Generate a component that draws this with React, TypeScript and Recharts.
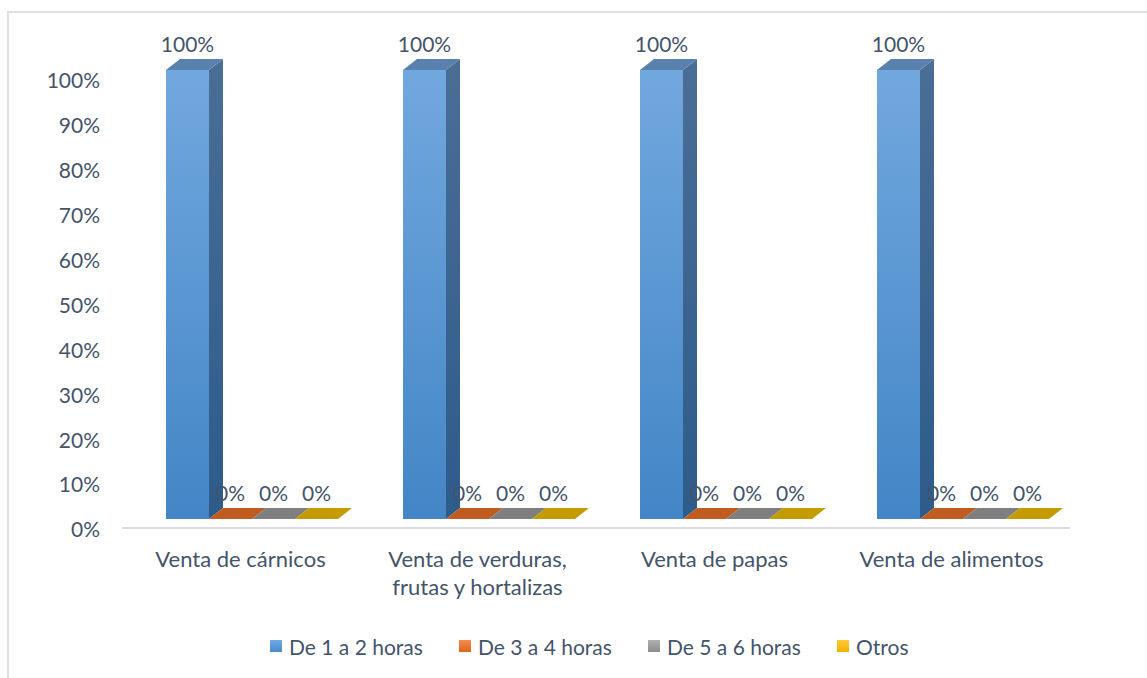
import React from 'react'
import { BarChart, Bar, XAxis, YAxis, LabelList } from 'recharts'

// categories and series
const categories = [
  'Venta de cárnicos',
  'Venta de verduras, frutas y hortalizas',
  'Venta de papas',
  'Venta de alimentos',
]
const categoryLines: Record<string, string[]> = {
  'Venta de verduras, frutas y hortalizas': ['Venta de verduras,', 'frutas y hortalizas'],
}
const seriesNames = ['De 1 a 2 horas', 'De 3 a 4 horas', 'De 5 a 6 horas', 'Otros']
const unoADos = [1, 1, 1, 1]
const tresACuatro = [0, 0, 0, 0]
const cincoASeis = [0, 0, 0, 0]
const otros = [0, 0, 0, 0]
const yTicks = [0, 0.1, 0.2, 0.3, 0.4, 0.5, 0.6, 0.7, 0.8, 0.9, 1]

const data = categories.map((name, i) => ({
  name,
  s0: unoADos[i],
  s1: tresACuatro[i],
  s2: cincoASeis[i],
  s3: otros[i],
}))

const TEXT = '#44546a'
const FONT = 'Lato, "Noto Sans", sans-serif'

// 3D look: front face is pushed a bit from the axis, depth goes up-right
const SHIFT_X = 11
const SHIFT_Y = -9
const DEPTH_X = 14
const DEPTH_Y = -11

type Faces = { front: string; side: string; top: string }

const FACES: Faces[] = [
  { front: 'url(#blueFront)', side: 'url(#blueSide)', top: '#5a80ad' },
  { front: '#c55a11', side: '#8e3f0c', top: '#c05c1f' },
  { front: '#8a8a8a', side: '#666666', top: '#7f7f7f' },
  { front: '#d4a600', side: '#9c7a00', top: '#c49b00' },
]
const LEGEND_COLORS = [
  ['#6eabe6', '#4a8acb'],
  ['#f28c4c', '#e0661a'],
  ['#b0b0b0', '#8c8c8c'],
  ['#ffc935', '#f0b300'],
]

function makeShape(f: Faces) {
  return (props: any) => {
    const { x, y, width } = props
    const h = Math.max(0, props.height || 0)
    const fx = x + SHIFT_X
    const fy = y + SHIFT_Y
    const w = width
    const top = `${fx},${fy} ${fx + DEPTH_X},${fy + DEPTH_Y} ${fx + w + DEPTH_X},${fy + DEPTH_Y} ${fx + w},${fy}`
    if (h < 0.5) return <polygon points={top} fill={f.top} />
    const side = `${fx + w},${fy} ${fx + w + DEPTH_X},${fy + DEPTH_Y} ${fx + w + DEPTH_X},${fy + h + DEPTH_Y} ${fx + w},${fy + h}`
    return (
      <g>
        <rect x={fx} y={fy} width={w} height={h} fill={f.front} />
        <polygon points={side} fill={f.side} />
        <polygon points={top} fill={f.top} />
      </g>
    )
  }
}

const pct = (v: number) => `${Math.round(v * 100)}%`

const ValueLabel = (props: any) => {
  const { x, y, width, value } = props
  return (
    <text
      x={x + width / 2 + SHIFT_X}
      y={y + SHIFT_Y - 25}
      dy="0.35em"
      textAnchor="middle"
      fill={TEXT}
      fontSize={21}
      fontFamily={FONT}
    >
      {pct(value)}
    </text>
  )
}

const PercentTick = (props: any) => {
  const { x, y, payload } = props
  return (
    <text x={x} y={y + 2} dy="0.35em" textAnchor="end" fill={TEXT} fontSize={21} fontFamily={FONT}>
      {pct(payload.value)}
    </text>
  )
}

const CategoryTick = (props: any) => {
  const { x, y, payload } = props
  const lines = categoryLines[payload.value] ?? [payload.value]
  return (
    <text x={x} y={y + 31} textAnchor="middle" fill={TEXT} fontSize={22} fontFamily={FONT}>
      {lines.map((l, i) => (
        <tspan key={i} x={x} dy={i === 0 ? '0.35em' : 28}>
          {l}
        </tspan>
      ))}
    </text>
  )
}

export default function App() {
  return (
    <div
      style={{
        position: 'fixed',
        left: 0,
        top: 0,
        width: 1147,
        height: 678,
        overflow: 'hidden',
        background: '#fff',
      }}
    >
      <div
        style={{
          position: 'absolute',
          left: 7,
          top: 11,
          width: 1200,
          height: 700,
          borderLeft: '2px solid #dce1e7',
          borderTop: '2px solid #dce1e7',
        }}
      />
      <div style={{ position: 'absolute', left: 0, top: 0 }}>
        <BarChart
          width={1147}
          height={678}
          data={data}
          margin={{ top: 79, right: 77, bottom: 50, left: 8 }}
          barGap={0}
          barSize={43}
        >
          <defs>
            <linearGradient id="blueFront" x1="0" y1="0" x2="0" y2="1">
              <stop offset="0%" stopColor="#71a8de" />
              <stop offset="100%" stopColor="#4385c6" />
            </linearGradient>
            <linearGradient id="blueSide" x1="0" y1="0" x2="0" y2="1">
              <stop offset="0%" stopColor="#4a6e96" />
              <stop offset="100%" stopColor="#2d5b8a" />
            </linearGradient>
          </defs>
          <XAxis
            dataKey="name"
            height={100}
            tickLine={false}
            tickSize={0}
            tickMargin={0}
            axisLine={{ stroke: '#dadee4', strokeWidth: 2 }}
            tick={<CategoryTick />}
            interval={0}
          />
          <YAxis
            width={114}
            domain={[0, 1]}
            ticks={yTicks}
            axisLine={false}
            tickLine={false}
            tickSize={0}
            tickMargin={22}
            tick={<PercentTick />}
          />
          {['s0', 's1', 's2', 's3'].map((key, i) => (
            <Bar
              key={key}
              dataKey={key}
              name={seriesNames[i]}
              isAnimationActive={false}
              shape={makeShape(FACES[i])}
            >
              <LabelList dataKey={key} content={<ValueLabel />} />
            </Bar>
          ))}
        </BarChart>
      </div>
      <div
        style={{
          position: 'absolute',
          left: 270,
          top: 632,
          display: 'flex',
          alignItems: 'center',
          fontFamily: FONT,
          fontSize: 21,
          color: TEXT,
          whiteSpace: 'nowrap',
        }}
      >
        {seriesNames.map((n, i) => (
          <div
            key={n}
            style={{ width: i < 3 ? 189 : 'auto', display: 'flex', alignItems: 'center', height: 28 }}
          >
            <span
              style={{
                display: 'inline-block',
                width: 12,
                height: 12,
                marginRight: 7,
                background: `linear-gradient(${LEGEND_COLORS[i][0]}, ${LEGEND_COLORS[i][1]})`,
              }}
            />
            <span>{n}</span>
          </div>
        ))}
      </div>
    </div>
  )
}
